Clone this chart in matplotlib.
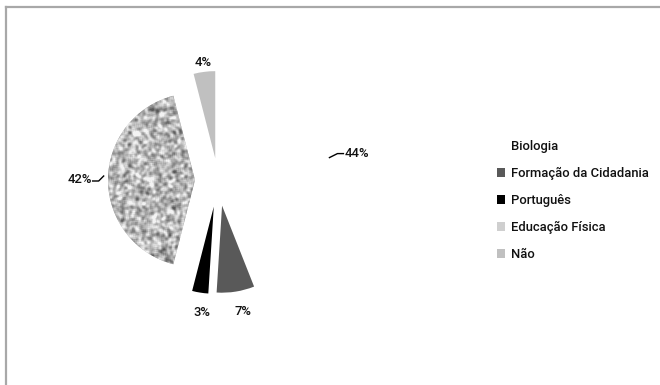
import numpy as np
import matplotlib
matplotlib.use("Agg")
import matplotlib.pyplot as plt
from matplotlib.patches import Patch
from matplotlib.lines import Line2D

# ---- data ----
categories = ["Biologia", "Formação da Cidadania", "Português", "Educação Física", "Não"]
values = [44, 7, 3, 42, 4]
pct_labels = ["44%", "7%", "3%", "42%", "4%"]

# ---- style ----
colors = ["white", "#595959", "#000000", "#b4b4b4", "#c0c0c0"]
legend_colors = ["white", "#595959", "#000000", "#cfcfcf", "#c0c0c0"]
explode_px = [0, 26, 27, 23, 22]
label_dist = [1.62, 1.52, 1.51, 1.59, 1.36]
label_nudge = [(0, 0), (4, -1), (4, -3), (0, 0), (0, 0)]

plt.rcParams['font.family'] = ['Roboto', 'DejaVu Sans']
FS = 9.4
TXT = "#111111"

fig = plt.figure(figsize=(6.6, 3.85), dpi=100)
ax = fig.add_axes([0, 0, 1, 1])

cx, cy, R = 218, 205, 87
wedges, _ = ax.pie(values, colors=colors, explode=explode_px, startangle=90,
                   counterclock=False, center=(cx, cy), radius=R,
                   wedgeprops=dict(linewidth=0))

# texture for Educação Física (decorative grain)
rng = np.random.default_rng(11)
h, wd = 220, 180
noise = rng.random((h, wd))
sm = noise
for _ in range(2):
    acc = np.zeros_like(sm)
    for dx in (-1, 0, 1):
        for dy in (-1, 0, 1):
            acc += np.roll(np.roll(sm, dx, 0), dy, 1)
    sm = acc / 9.0
sm = (sm - sm.mean()) / sm.std()
tex = np.clip(0.72 + 0.12 * sm, 0.35, 0.95)
w_ed = wedges[3]
im = ax.imshow(tex, cmap="gray", vmin=0, vmax=1, interpolation="nearest",
               extent=(cx - 140, cx + 40, cy - 110, cy + 110), zorder=2)
im.set_clip_path(w_ed)

# percentage labels
for w, lab, d, (nx, ny) in zip(wedges, pct_labels, label_dist, label_nudge):
    mid = np.deg2rad(0.5 * (w.theta1 + w.theta2))
    x = cx + d * R * np.cos(mid) + nx
    y = cy + d * R * np.sin(mid) + ny
    ax.text(x, y, lab, ha="center", va="center", fontsize=FS,
            fontweight="medium", color=TXT, zorder=5)
    if lab == "44%":
        ax.add_line(Line2D([x - 13, x - 19, x - 27], [y, y, y - 4],
                           color="black", lw=1, zorder=5))
    if lab == "42%":
        ax.add_line(Line2D([x + 13, x + 19, x + 24], [y - 1, y - 1, y + 4],
                           color="black", lw=1, zorder=5))

ax.set_xlim(0, 660)
ax.set_ylim(0, 385)
ax.set_aspect("equal")
ax.axis("off")

handles = [Patch(facecolor=c, edgecolor="none") for c in legend_colors]
leg = ax.legend(handles, categories, loc="upper left",
                bbox_to_anchor=(497 / 660, 1 - 140 / 385),
                frameon=False, fontsize=FS, handlelength=0.6, handleheight=0.6,
                handletextpad=0.5, labelspacing=1.07, borderpad=0, borderaxespad=0)
for t in leg.get_texts():
    t.set_color(TXT)
    t.set_fontweight("medium")

# outer border (top and left)
fig.add_artist(Line2D([6 / 660, 1], [1 - 7 / 385, 1 - 7 / 385],
                      transform=fig.transFigure, color="#a8a8a8", lw=1.6))
fig.add_artist(Line2D([6.5 / 660, 6.5 / 660], [0, 1 - 7 / 385],
                      transform=fig.transFigure, color="#a8a8a8", lw=1.6))

fig.savefig("out.png", dpi=100, facecolor="white")
